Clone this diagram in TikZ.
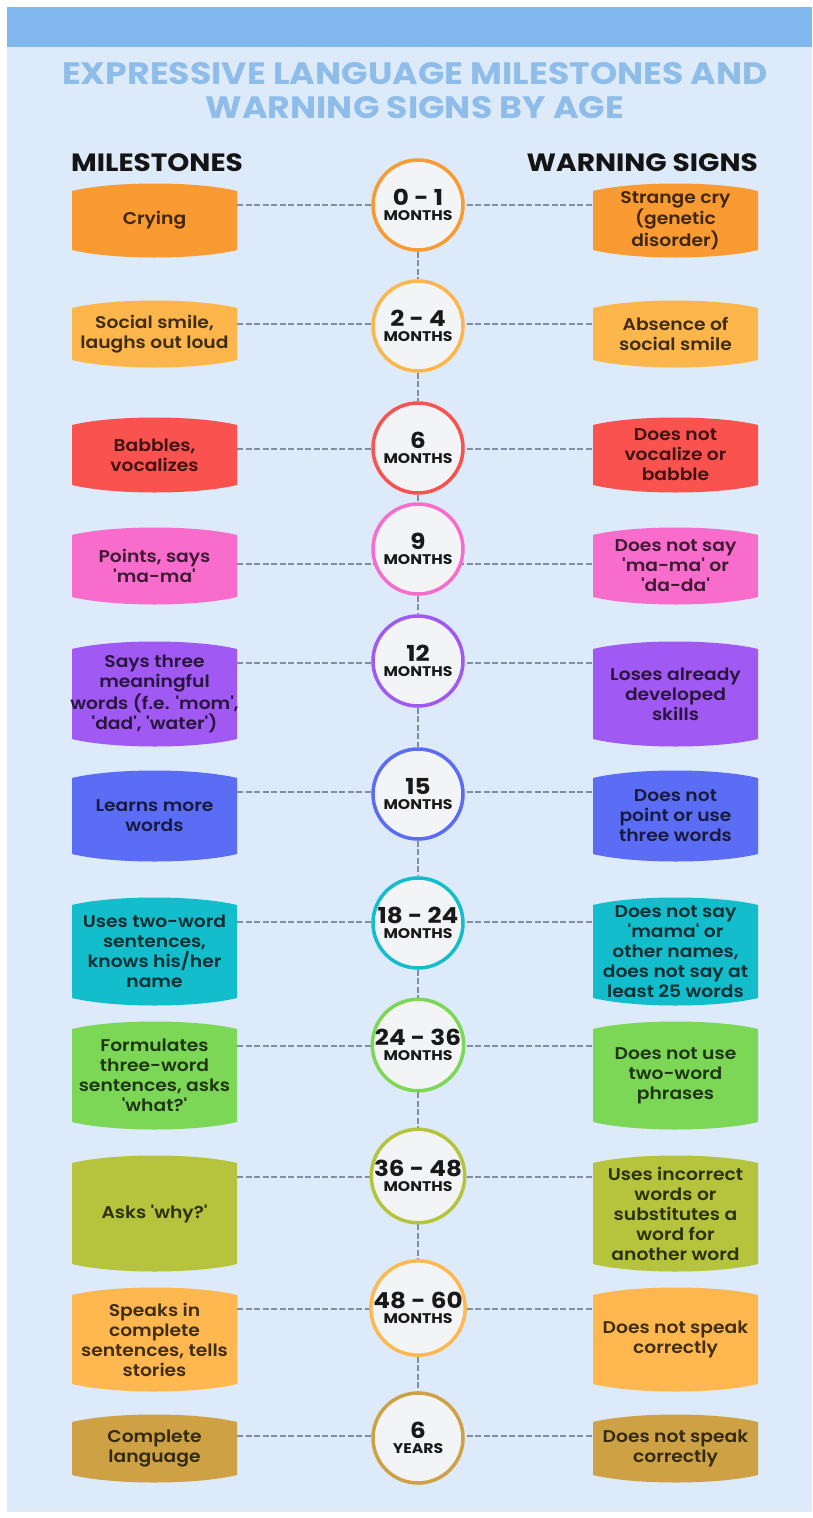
\documentclass[tikz,border=0pt]{standalone}
\usepackage{fontspec}
\setmainfont{Poppins}[FakeStretch=1.12]
\newfontfamily\medfont{Poppins SemiBold}[FakeStretch=1.1]
\pgfdeclarelayer{bg}
\pgfdeclarelayer{lines}
\pgfsetlayers{bg,lines,main}
\definecolor{bgC}{HTML}{DCEAF9}
\definecolor{bandC}{HTML}{80B8EE}
\definecolor{titleC}{HTML}{8FBDEA}
\definecolor{circF}{HTML}{F3F4F5}
\definecolor{lineC}{HTML}{7F8EA3}
\definecolor{c1}{HTML}{F99A32}
\definecolor{c2}{HTML}{FDB64C}
\definecolor{c3}{HTML}{F9524F}
\definecolor{c4}{HTML}{F86CCB}
\definecolor{c5}{HTML}{A159F3}
\definecolor{c6}{HTML}{5B6CF5}
\definecolor{c7}{HTML}{14BDCB}
\definecolor{c8}{HTML}{7DD756}
\definecolor{c9}{HTML}{B5C43C}
\definecolor{c10}{HTML}{FFB74F}
\definecolor{c11}{HTML}{CEA244}
\tikzset{
  conn/.style={draw=lineC, line width=2pt, dash pattern=on 6pt off 2.5pt},
  agecirc/.style={circle, minimum size=90pt, inner sep=0pt, fill=circF, line width=3.5pt,
    align=center, font=\bfseries\fontsize{14}{15}\selectfont, text=black!90},
  boxshape/.style={inner sep=0pt, outer sep=0pt},
  boxtext/.style={align=center, font=\medfont\fontsize{17}{20}\selectfont, inner sep=0pt},
  heading/.style={font=\bfseries\fontsize{25}{25}\selectfont, text=black!92, inner sep=0pt},
  titletext/.style={anchor=base, font=\bfseries\fontsize{31}{34}\selectfont, text=titleC, inner sep=0pt},
}
\newcommand\agebox[7]{%
  \node[boxshape, minimum width={#4-#2}, minimum height={#5-#3}] (#1) at ({(#2+#4)/2},{(#3+#5)/2}) {};
  \fill[#6] (#2,#3+8) .. controls ({#2+0.25*(#4-#2)},#3-2) and ({#4-0.25*(#4-#2)},#3-2) .. (#4,#3+8)
    -- (#4,#5-8) .. controls ({#4-0.25*(#4-#2)},#5+2) and ({#2+0.25*(#4-#2)},#5+2) .. (#2,#5-8) -- cycle;
  \node[boxtext, text=#6!25!black] (#1t) at (#1) {#7};
}
\newcommand\agenum[1]{{\fontsize{22}{15}\selectfont #1}}
\begin{document}
\begin{tikzpicture}[x=1pt,y=-1pt]
\useasboundingbox (0,0) rectangle (812,1518);
\begin{pgfonlayer}{bg}
  \fill[white] (0,0) rectangle (812,1518);
  \fill[bgC] (7,7) rectangle (812,1512);
  \fill[bandC] (7,7) rectangle (812,47);
\end{pgfonlayer}

\node[titletext] (t1) at (415,84) {EXPRESSIVE LANGUAGE MILESTONES AND};
\node[titletext] (t2) at (415,118) {WARNING SIGNS BY AGE};
\node[heading, anchor=base west] (hm) at (71,171) {MILESTONES};
\node[heading, anchor=base east] (hw) at (758,171) {WARNING SIGNS};

% row 1
\agebox{L1}{72}{183}{237}{258}{c1}{Crying}
\agebox{R1}{593}{183}{758}{258}{c1}{Strange cry\\(genetic\\disorder)}
\node[agecirc, draw=c1] (C1) at (418,205) {\agenum{0 - 1}\\MONTHS};
\coordinate (r1) at (418,205);
% row 2
\agebox{L2}{72}{300}{237}{368}{c2}{Social smile,\\laughs out loud}
\agebox{R2}{593}{300}{758}{368}{c2}{Absence of\\social smile}
\node[agecirc, draw=c2] (C2) at (418,326) {\agenum{2 - 4}\\MONTHS};
\coordinate (r2) at (418,324);
% row 3
\agebox{L3}{72}{417}{237}{493}{c3}{Babbles,\\vocalizes}
\agebox{R3}{593}{417}{758}{493}{c3}{Does not\\vocalize or\\babble}
\node[agecirc, draw=c3] (C3) at (418,448) {\agenum{6}\\MONTHS};
\coordinate (r3) at (418,449);
% row 4
\agebox{L4}{72}{527}{237}{605}{c4}{Points, says\\'ma-ma'}
\agebox{R4}{593}{527}{758}{605}{c4}{Does not say\\'ma-ma' or\\'da-da'}
\node[agecirc, draw=c4] (C4) at (418,549) {\agenum{9}\\MONTHS};
\coordinate (r4) at (418,564);
% row 5
\agebox{L5}{72}{641}{237}{747}{c5}{Says three\\meaningful\\words (f.e. 'mom',\\'dad', 'water')}
\agebox{R5}{593}{641}{758}{747}{c5}{Loses already\\developed\\skills}
\node[agecirc, draw=c5] (C5) at (418,661) {\agenum{12}\\MONTHS};
\coordinate (r5) at (418,663);
% row 6
\agebox{L6}{72}{770}{237}{862}{c6}{Learns more\\words}
\agebox{R6}{593}{770}{758}{862}{c6}{Does not\\point or use\\three words}
\node[agecirc, draw=c6] (C6) at (418,794) {\agenum{15}\\MONTHS};
\coordinate (r6) at (418,792);
% row 7
\agebox{L7}{72}{897}{237}{1006}{c7}{Uses two-word\\sentences,\\knows his/her\\name}
\agebox{R7}{593}{897}{758}{1006}{c7}{Does not say\\'mama' or\\other names,\\does not say at\\least 25 words}
\node[agecirc, draw=c7] (C7) at (418,923) {\agenum{18 - 24}\\MONTHS};
\coordinate (r7) at (418,922);
% row 8
\agebox{L8}{72}{1021}{237}{1130}{c8}{Formulates\\three-word\\sentences, asks\\'what?'}
\agebox{R8}{593}{1021}{758}{1130}{c8}{Does not use\\two-word\\phrases}
\node[agecirc, draw=c8] (C8) at (418,1045) {\agenum{24 - 36}\\MONTHS};
\coordinate (r8) at (418,1046);
% row 9
\agebox{L9}{72}{1155}{237}{1272}{c9}{Asks 'why?'}
\agebox{R9}{593}{1155}{758}{1272}{c9}{Uses incorrect\\words or\\substitutes a\\word for\\another word}
\node[agecirc, draw=c9] (C9) at (418,1176) {\agenum{36 - 48}\\MONTHS};
\coordinate (r9) at (418,1177);
% row 10
\agebox{L10}{72}{1287}{237}{1392}{c10}{Speaks in\\complete\\sentences, tells\\stories}
\agebox{R10}{593}{1287}{758}{1392}{c10}{Does not speak\\correctly}
\node[agecirc, draw=c10] (C10) at (418,1308) {\agenum{48 - 60}\\MONTHS};
\coordinate (r10) at (418,1309);
% row 11
\agebox{L11}{72}{1414}{237}{1483}{c11}{Complete\\language}
\agebox{R11}{593}{1414}{758}{1483}{c11}{Does not speak\\correctly}
\node[agecirc, draw=c11] (C11) at (418,1438) {\agenum{6}\\YEARS};
\coordinate (r11) at (418,1436);

\begin{pgfonlayer}{lines}
  \foreach \i in {1,...,11} {
    \draw[conn] (L\i.east |- r\i) -- (r\i) -- (R\i.west |- r\i);
  }
  \foreach \i [evaluate=\i as \j using {int(\i+1)}] in {1,...,10} {
    \draw[conn] (C\i) -- (C\j);
  }
\end{pgfonlayer}
\end{tikzpicture}
\end{document}
